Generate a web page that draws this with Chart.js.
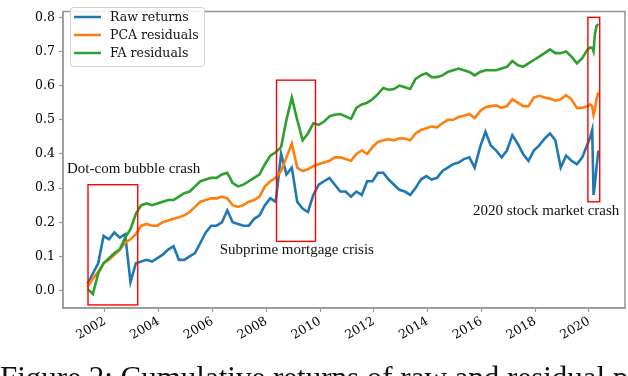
<!DOCTYPE html>
<html>
<head>
<meta charset="utf-8">
<script src="https://cdn.jsdelivr.net/npm/chart.js@4.4.1/dist/chart.umd.min.js"></script>
<style>
  html, body { margin: 0; padding: 0; background: #fff; overflow: hidden; }
  #wrap { position: relative; width: 628px; height: 376px; overflow: hidden; }
  #caption { position: absolute; left: 0; top: 360px; font: 31px "Liberation Serif", serif; white-space: nowrap; color: #111; }
</style>
</head>
<body>
<div id="wrap">
  <canvas id="chart" width="628" height="376"></canvas>
  <div id="caption">Figure 2: Cumulative returns of raw and residual portfolios</div>
</div>
<script>
// decimal years
const dates = [
  2001.35, 2001.55, 2001.75, 2001.95, 2002.15, 2002.35, 2002.55, 2002.75, 2002.95, 2003.15,
  2003.35, 2003.55, 2003.75, 2003.95, 2004.15, 2004.35, 2004.55, 2004.75, 2004.95, 2005.15,
  2005.35, 2005.55, 2005.75, 2005.95, 2006.15, 2006.35, 2006.55, 2006.75, 2006.95, 2007.15,
  2007.35, 2007.55, 2007.75, 2007.95, 2008.15, 2008.35, 2008.55, 2008.75, 2008.95, 2009.15,
  2009.35, 2009.55, 2009.75, 2009.95, 2010.15, 2010.35, 2010.55, 2010.75, 2010.95, 2011.15,
  2011.35, 2011.55, 2011.75, 2011.95, 2012.15, 2012.35, 2012.55, 2012.75, 2012.95, 2013.15,
  2013.35, 2013.55, 2013.75, 2013.95, 2014.15, 2014.35, 2014.55, 2014.75, 2014.95, 2015.15,
  2015.35, 2015.55, 2015.75, 2015.95, 2016.15, 2016.35, 2016.55, 2016.75, 2016.95, 2017.15,
  2017.35, 2017.55, 2017.75, 2017.95, 2018.15, 2018.35, 2018.55, 2018.75, 2018.95, 2019.15,
  2019.35, 2019.55, 2019.75, 2019.95, 2020.05, 2020.12, 2020.17, 2020.22, 2020.28, 2020.35
];

const rawReturns = [
  0.02, 0.05, 0.08, 0.16, 0.15, 0.17, 0.155, 0.165, 0.025, 0.08,
  0.085, 0.09, 0.085, 0.095, 0.105, 0.12, 0.13, 0.09, 0.09, 0.10,
  0.11, 0.14, 0.17, 0.19, 0.19, 0.20, 0.235, 0.20, 0.195, 0.19,
  0.19, 0.21, 0.22, 0.25, 0.27, 0.26, 0.40, 0.34, 0.36, 0.26,
  0.24, 0.23, 0.28, 0.31, 0.32, 0.33, 0.31, 0.29, 0.29, 0.275,
  0.29, 0.28, 0.32, 0.32, 0.345, 0.345, 0.325, 0.31, 0.295, 0.29,
  0.28, 0.30, 0.325, 0.335, 0.325, 0.33, 0.35, 0.36, 0.37, 0.375,
  0.385, 0.39, 0.36, 0.42, 0.465, 0.425, 0.41, 0.39, 0.41, 0.455,
  0.43, 0.40, 0.38, 0.41, 0.425, 0.445, 0.46, 0.44, 0.36, 0.395,
  0.38, 0.37, 0.39, 0.43, 0.45, 0.47, 0.28, 0.31, 0.36, 0.41
];

const pcaResiduals = [
  0.01, 0.035, 0.055, 0.08, 0.09, 0.105, 0.12, 0.14, 0.15, 0.165,
  0.19, 0.195, 0.19, 0.19, 0.20, 0.205, 0.21, 0.215, 0.22, 0.23,
  0.245, 0.26, 0.265, 0.27, 0.27, 0.275, 0.27, 0.25, 0.245, 0.25,
  0.26, 0.265, 0.275, 0.305, 0.32, 0.33, 0.35, 0.39, 0.43, 0.36,
  0.35, 0.355, 0.365, 0.37, 0.375, 0.38, 0.39, 0.39, 0.385, 0.38,
  0.40, 0.41, 0.40, 0.42, 0.435, 0.44, 0.443, 0.44, 0.446, 0.445,
  0.44, 0.46, 0.47, 0.475, 0.48, 0.478, 0.49, 0.50, 0.50, 0.508,
  0.512, 0.517, 0.505, 0.525, 0.537, 0.54, 0.542, 0.535, 0.54, 0.56,
  0.55, 0.54, 0.54, 0.565, 0.57, 0.565, 0.562, 0.556, 0.56, 0.572,
  0.56, 0.535, 0.535, 0.54, 0.545, 0.54, 0.515, 0.53, 0.56, 0.58
];

const faResiduals = [
  0.005, -0.01, 0.05, 0.08, 0.095, 0.11, 0.12, 0.155, 0.18, 0.225,
  0.25, 0.255, 0.25, 0.255, 0.26, 0.265, 0.265, 0.275, 0.285, 0.29,
  0.305, 0.32, 0.325, 0.33, 0.33, 0.34, 0.345, 0.315, 0.305, 0.31,
  0.32, 0.33, 0.34, 0.37, 0.395, 0.405, 0.42, 0.50, 0.565, 0.50,
  0.44, 0.46, 0.49, 0.485, 0.495, 0.51, 0.515, 0.517, 0.51, 0.503,
  0.535, 0.545, 0.55, 0.56, 0.575, 0.593, 0.588, 0.59, 0.60, 0.595,
  0.59, 0.62, 0.63, 0.636, 0.625, 0.625, 0.63, 0.64, 0.645, 0.65,
  0.645, 0.64, 0.63, 0.64, 0.645, 0.645, 0.645, 0.65, 0.655, 0.672,
  0.66, 0.655, 0.665, 0.675, 0.685, 0.695, 0.706, 0.695, 0.695, 0.70,
  0.685, 0.665, 0.68, 0.706, 0.712, 0.71, 0.70, 0.75, 0.775, 0.78
];

const seriesNames = ["Raw returns", "PCA residuals", "FA residuals"];
const yearTicks = [2002, 2004, 2006, 2008, 2010, 2012, 2014, 2016, 2018, 2020];
const valueTicks = [0.0, 0.1, 0.2, 0.3, 0.4, 0.5, 0.6, 0.7, 0.8];

// crisis windows: [from year, to year, low value, high value]
const crisisWindows = [
  [2001.37, 2003.22, -0.042, 0.31],
  [2008.38, 2009.83, 0.144, 0.616],
  [2019.96, 2020.40, 0.26, 0.80]
];
const crisisNames = ["Dot-com bubble crash", "Subprime mortgage crisis", "2020 stock market crash"];
// where each name sits: [year, value]
const crisisNameAt = [[2000.59, 0.356], [2006.27, 0.119], [2015.69, 0.232]];

const colors = ["#1f77b4", "#ff7f0e", "#2ca02c"];
const serif = "'DejaVu Serif', serif";

const toPoints = (vals) => vals.map((v, i) => ({ x: dates[i], y: v }));

const overlay = {
  id: "overlay",
  afterDatasetsDraw(chart) {
    const { ctx, chartArea: a, scales: { x, y } } = chart;
    ctx.save();

    // axes frame
    ctx.strokeStyle = "#999";
    ctx.lineWidth = 1.6;
    ctx.strokeRect(a.left, a.top, a.right - a.left, a.bottom - a.top);

    // red boxes
    ctx.strokeStyle = "#ff0000";
    ctx.lineWidth = 1.4;
    crisisWindows.forEach(([from, to, low, high]) => {
      const l = x.getPixelForValue(from), r = x.getPixelForValue(to);
      const t = y.getPixelForValue(high), b = y.getPixelForValue(low);
      ctx.strokeRect(l, t, r - l, b - t);
    });

    // box captions
    ctx.fillStyle = "#111";
    ctx.font = "15px 'Liberation Serif', serif";
    ctx.textAlign = "left";
    ctx.textBaseline = "middle";
    crisisNames.forEach((name, i) => {
      const [yr, v] = crisisNameAt[i];
      ctx.fillText(name, x.getPixelForValue(yr), y.getPixelForValue(v));
    });

    // legend
    ctx.beginPath();
    ctx.roundRect(70.5, 7.5, 134, 59, 3);
    ctx.fillStyle = "rgba(255,255,255,0.85)";
    ctx.fill();
    ctx.strokeStyle = "#d0d0d0";
    ctx.lineWidth = 1;
    ctx.stroke();
    ctx.font = "12.5px " + serif;
    seriesNames.forEach((name, i) => {
      const ly = 17 + i * 18;
      ctx.strokeStyle = colors[i];
      ctx.lineWidth = 2.5;
      ctx.beginPath();
      ctx.moveTo(74, ly);
      ctx.lineTo(101, ly);
      ctx.stroke();
      ctx.fillStyle = "#111";
      ctx.fillText(name, 110, ly + 1);
    });

    ctx.restore();
  }
};

new Chart(document.getElementById("chart"), {
  type: "line",
  data: {
    datasets: [rawReturns, pcaResiduals, faResiduals].map((vals, i) => ({
      label: seriesNames[i],
      data: toPoints(vals),
      borderColor: colors[i],
      backgroundColor: colors[i],
      borderWidth: 2.6,
      pointRadius: 0,
      tension: 0,
      order: 3 - i,
    })),
  },
  options: {
    responsive: false,
    animation: false,
    devicePixelRatio: 1,
    layout: { padding: { top: 1, right: 3, left: 0, bottom: 0 } },
    plugins: { legend: { display: false }, tooltip: { enabled: false } },
    scales: {
      x: {
        type: "linear",
        bounds: "data",
        min: 2000.44,
        max: 2021.34,
        afterBuildTicks: (s) => { s.ticks = yearTicks.map((v) => ({ value: v })); },
        afterFit: (s) => { s.height = 68; },
        ticks: {
          minRotation: 30,
          maxRotation: 30,
          padding: 2,
          color: "#000",
          font: { family: serif, size: 12.5 },
          callback: (v) => String(v),
        },
        grid: { drawOnChartArea: false, tickLength: 4, tickColor: "#999", tickWidth: 1.2 },
        border: { color: "#999", width: 1.6 },
      },
      y: {
        bounds: "data",
        min: -0.051,
        max: 0.817,
        afterBuildTicks: (s) => { s.ticks = valueTicks.map((v) => ({ value: v })); },
        afterFit: (s) => { s.width = 63; },
        ticks: {
          padding: 4,
          color: "#000",
          font: { family: serif, size: 12.5 },
          callback: (v) => Number(v).toFixed(1),
        },
        grid: { drawOnChartArea: false, tickLength: 4, tickColor: "#999", tickWidth: 1.2 },
        border: { color: "#999", width: 1.6 },
      },
    },
  },
  plugins: [overlay],
});
</script>
</body>
</html>
